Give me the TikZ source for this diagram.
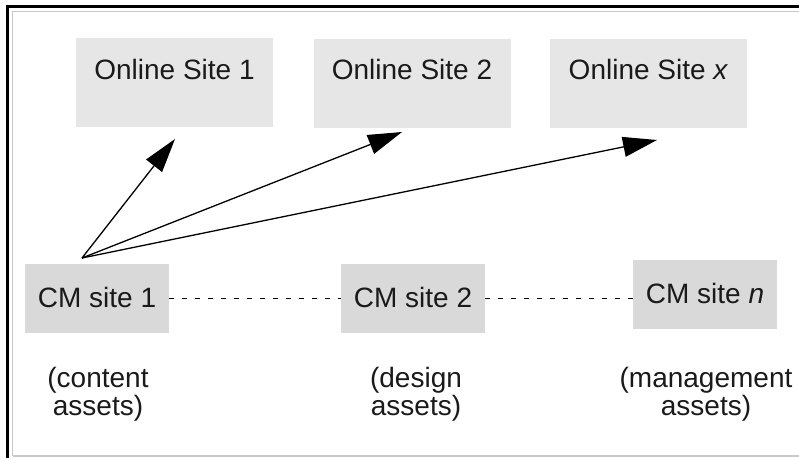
\documentclass[tikz,border=0pt]{standalone}
\usepackage{fontspec}
\setmainfont{Liberation Sans}
\usetikzlibrary{arrows.meta}
\definecolor{onlinegray}{HTML}{E6E6E6}
\definecolor{cmgray}{HTML}{D9D9D9}
\definecolor{framegray}{HTML}{C8C8C8}
\definecolor{inkcol}{HTML}{1A1A1A}
\tikzset{
  bigfont/.style={font=\fontsize{28}{28}\selectfont, text=inkcol},
  onlinebox/.style={bigfont, fill=onlinegray, inner sep=0pt,
    minimum width=197pt, text height=41pt, text depth=48pt},
  cmbox/.style={bigfont, fill=cmgray, inner sep=0pt,
    minimum width=144pt, text height=43pt, text depth=26pt},
  assetlabel/.style={bigfont, align=center, inner sep=0pt, anchor=base},
  pubarrow/.style={line width=1.3pt, -{Triangle[length=34pt,width=20pt]}},
  linkline/.style={line width=1.5pt, dash pattern=on 5pt off 8pt},
}
\begin{document}
\begin{tikzpicture}[x=1pt,y=-1pt]
\useasboundingbox (0,0) rectangle (799,458);
% frame
\draw[line width=3.5pt] (7.5,458) -- (7.5,6.5) -- (799,6.5);
\draw[framegray, line width=1.2pt] (12.5,456) -- (12.5,11.5) -- (799,11.5);
\draw[framegray, line width=1.2pt] (12.5,456) -- (799,456);
% online sites
\node[onlinebox] (o1) at (174.5,82.5) {Online Site 1};
\node[onlinebox] (o2) at (412,83) {Online Site 2};
\node[onlinebox] (ox) at (648.5,83) {Online Site \textit{x}};
% CM sites
\node[cmbox] (cm1) at (97,298.5) {CM site 1};
\node[cmbox] (cm2) at (413,298.5) {CM site 2};
\node[cmbox] (cmn) at (705,294.5) {CM site \textit{n}};
% labels (base = baseline of last line)
\node[assetlabel] (l1) at (98,415) {(content\\assets)};
\node[assetlabel] (l2) at (416,415) {(design\\assets)};
\node[assetlabel] (l3) at (706,415) {(management\\assets)};
% arrows
\coordinate (src) at (82,258);
\coordinate (t1) at (175,139);
\coordinate (t2) at (402,132);
\coordinate (t3) at (657,140);
\draw[pubarrow] (src) -- (t1);
\draw[pubarrow] (src) -- (t2);
\draw[pubarrow] (src) -- (t3);
% dashed links
\draw[linkline] (cm1.east) -- (cm2.west);
\draw[linkline] (cm2.east) -- (cm2.east -| cmn.west);
\end{tikzpicture}
\end{document}
